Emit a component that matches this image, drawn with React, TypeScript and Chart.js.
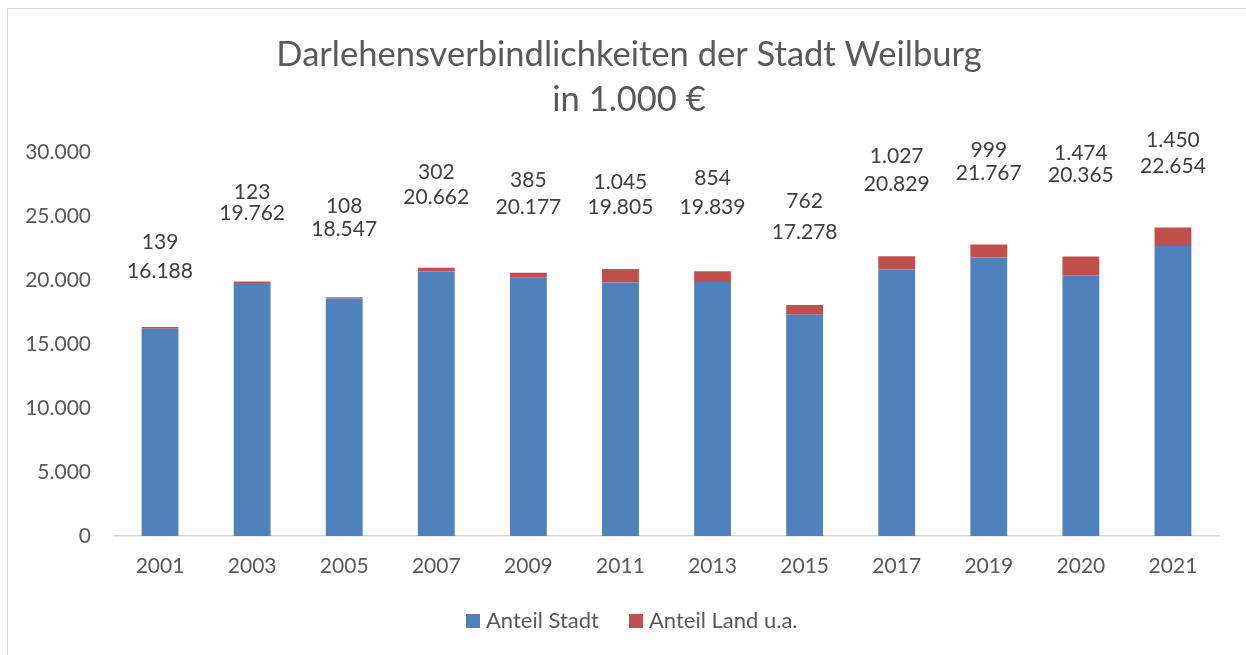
import React, { useEffect, useRef } from "react";
import { Chart, registerables } from "chart.js";

Chart.register(...registerables);

const years = ["2001", "2003", "2005", "2007", "2009", "2011", "2013", "2015", "2017", "2019", "2020", "2021"];
const anteilStadt = [16188, 19762, 18547, 20662, 20177, 19805, 19839, 17278, 20829, 21767, 20365, 22654];
const anteilLand = [139, 123, 108, 302, 385, 1045, 854, 762, 1027, 999, 1474, 1450];
// heights (in axis units) at which the two label lines of each bar sit
const landLabelAt = [22969, 26875, 25781, 28438, 27813, 27656, 27969, 26172, 29688, 30156, 29922, 30938];
const stadtLabelAt = [20703, 25234, 23984, 26484, 25703, 25703, 25703, 23750, 27500, 28359, 28203, 28906];
const yTicks = [0, 5000, 10000, 15000, 20000, 25000, 30000];
const titleLines = ["Darlehensverbindlichkeiten der Stadt Weilburg", "in 1.000 €"];
const seriesNames = ["Anteil Stadt", "Anteil Land u.a."];

const BLUE = "#4F81BD";
const RED = "#C0504D";
const FONT = "Lato, 'Open Sans', sans-serif";

function fmt(n: number): string {
  const s = String(Math.round(n));
  return s.replace(/\B(?=(\d{3})+(?!\d))/g, ".");
}

const overlayPlugin = {
  id: "overlay",
  afterDatasetsDraw(chart: any) {
    const { ctx, scales } = chart;
    const xs = scales.x;
    const ys = scales.y;
    ctx.save();
    ctx.fillStyle = "#404040";
    ctx.font = `21px ${FONT}`;
    ctx.textAlign = "center";
    ctx.textBaseline = "middle";
    years.forEach((_, i) => {
      const x = xs.getPixelForValue(i);
      ctx.fillText(fmt(anteilLand[i]), x, ys.getPixelForValue(landLabelAt[i]));
      ctx.fillText(fmt(anteilStadt[i]), x, ys.getPixelForValue(stadtLabelAt[i]));
    });
    ctx.restore();
  },
  afterDraw(chart: any) {
    const { ctx } = chart;
    ctx.save();
    // title
    ctx.fillStyle = "#595959";
    ctx.font = `34.5px ${FONT}`;
    ctx.textAlign = "center";
    ctx.textBaseline = "middle";
    ctx.fillText(titleLines[0], 629, 55);
    ctx.fillText(titleLines[1], 629, 100);
    // legend
    ctx.font = `22px ${FONT}`;
    ctx.textAlign = "left";
    const colors = [BLUE, RED];
    let x = 466;
    seriesNames.forEach((name, i) => {
      ctx.fillStyle = colors[i];
      ctx.fillRect(x, 614, 14, 14);
      ctx.fillStyle = "#595959";
      ctx.fillText(name, x + 20, 621);
      x += 20 + ctx.measureText(name).width + 30;
    });
    ctx.restore();
  },
};

export default function App() {
  const ref = useRef<HTMLCanvasElement | null>(null);
  useEffect(() => {
    if (!ref.current) return;
    const chart = new Chart(ref.current, {
      type: "bar",
      data: {
        labels: years,
        datasets: [
          { label: seriesNames[0], data: anteilStadt, backgroundColor: BLUE, borderWidth: 0 },
          { label: seriesNames[1], data: anteilLand, backgroundColor: RED, borderWidth: 0 },
        ],
      },
      options: {
        animation: false,
        responsive: false,
        maintainAspectRatio: false,
        layout: { padding: { left: 0, top: 152, right: 27, bottom: 0 } },
        datasets: { bar: { categoryPercentage: 1, barPercentage: 0.4 } },
        plugins: {
          legend: { display: false },
          title: { display: false },
          tooltip: { enabled: false },
        },
        scales: {
          x: {
            stacked: true,
            grid: { display: true, color: "transparent", drawTicks: false },
            border: { display: true, color: "#d9d9d9", width: 1.5 },
            ticks: { color: "#595959", font: { family: FONT, size: 21 }, padding: 18, maxRotation: 0 },
            afterFit(scale: any) {
              scale.height = 119;
            },
          },
          y: {
            stacked: true,
            min: 0,
            max: 30000,
            grid: { display: false, drawTicks: false },
            border: { display: false },
            afterBuildTicks(scale: any) {
              scale.ticks = yTicks.map((v) => ({ value: v }));
            },
            ticks: {
              color: "#595959",
              font: { family: FONT, size: 21 },
              padding: 23,
              callback: (v: any) => fmt(Number(v)),
            },
            afterFit(scale: any) {
              scale.width = 114;
            },
          },
        },
      },
      plugins: [overlayPlugin],
    });
    return () => chart.destroy();
  }, []);

  return (
    <div style={{ position: "absolute", left: 0, top: 0, width: 1246, height: 655, overflow: "hidden", background: "#fff" }}>
      <div
        style={{
          position: "absolute",
          left: 7,
          top: 8,
          width: 1400,
          height: 800,
          borderLeft: "1.5px solid #d9d9d9",
          borderTop: "1.5px solid #d9d9d9",
        }}
      />
      <canvas ref={ref} width={1246} height={655} style={{ position: "absolute", left: 0, top: 0, width: 1246, height: 655 }} />
    </div>
  );
}
